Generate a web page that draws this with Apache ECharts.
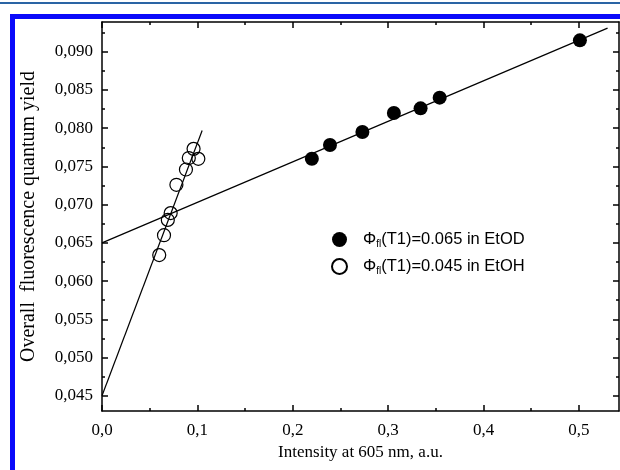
<!DOCTYPE html>
<html>
<head>
<meta charset="utf-8">
<script src="https://cdn.jsdelivr.net/npm/echarts@6/dist/echarts.min.js"></script>
<style>html,body{margin:0;padding:0;background:#fff}#c{width:620px;height:470px}</style>
</head>
<body>
<div id="c"></div>
<script>
// ---- data ----
var etodX = [0.220, 0.239, 0.273, 0.306, 0.334, 0.354, 0.501];
var etodY = [0.0760, 0.0778, 0.0795, 0.0820, 0.0826, 0.0840, 0.0915];
var etohX = [0.060, 0.065, 0.069, 0.072, 0.078, 0.088, 0.091, 0.096, 0.101];
var etohY = [0.0634, 0.0660, 0.0680, 0.0689, 0.0726, 0.0746, 0.0761, 0.0773, 0.0760];
var etodFitX = [0, 0.53];
var etodFitY = [0.065, 0.0931];
var etohFitX = [0, 0.105];
var etohFitY = [0.045, 0.0797];
var xMajorTicks = [0, 0.1, 0.2, 0.3, 0.4, 0.5];
var xMinorTicks = [0.05, 0.15, 0.25, 0.35, 0.45];
var yMajorTicks = [0.045, 0.050, 0.055, 0.060, 0.065, 0.070, 0.075, 0.080, 0.085, 0.090];
var yMinorTicks = [0.0475, 0.0525, 0.0575, 0.0625, 0.0675, 0.0725, 0.0775, 0.0825, 0.0875, 0.0925];
var legendNames = {
  EtOD: '{a|Φ}{s|fl}{a|(T1)=0.065 in EtOD}',
  EtOH: '{a|Φ}{s|fl}{a|(T1)=0.045 in EtOH}'
};

function zip(xs, ys) { return xs.map(function (x, i) { return [x, ys[i]]; }); }

var chart = echarts.init(document.getElementById('c'), null, {renderer: 'canvas'});
var black = '#000';
var serif = 'Liberation Serif';
function xAx(pos, ticks, len, showLine, showLabel) {
  return {
    type: 'value', position: pos, min: 0, max: 0.542,
    axisLine: {show: showLine, onZero: false, lineStyle: {color: black, width: 1.5}},
    axisTick: {show: true, inside: true, length: len, customValues: ticks, lineStyle: {color: black, width: 1.5}},
    axisLabel: showLabel ? {show: true, customValues: ticks, margin: 11, color: black, fontFamily: serif, fontSize: 17,
      formatter: function (v) { return v.toFixed(1).replace('.', ','); }} : {show: false},
    splitLine: {show: false}
  };
}
function yAx(pos, ticks, len, showLine, showLabel) {
  return {
    type: 'value', position: pos, min: 0.043, max: 0.0939,
    axisLine: {show: showLine, onZero: false, lineStyle: {color: black, width: 1.5}},
    axisTick: {show: true, inside: true, length: len, customValues: ticks, lineStyle: {color: black, width: 1.5}},
    axisLabel: showLabel ? {show: true, customValues: ticks, margin: 9, color: black, fontFamily: serif, fontSize: 17,
      formatter: function (v) { return v.toFixed(3).replace('.', ','); }} : {show: false},
    splitLine: {show: false}
  };
}
var xb = xAx('bottom', xMajorTicks, 6, true, true);
xb.name = 'Intensity at 605 nm, a.u.';
xb.nameLocation = 'middle';
xb.nameGap = 33;
xb.nameTextStyle = {color: black, fontFamily: serif, fontSize: 17};
var yl = yAx('left', yMajorTicks, 6, true, true);
yl.name = 'Overall  fluorescence quantum yield';
yl.nameLocation = 'middle';
yl.nameGap = 63;
yl.nameTextStyle = {color: black, fontFamily: serif, fontSize: 20};

var option = {
  animation: false,
  backgroundColor: '#fff',
  grid: {left: 102, top: 22, width: 517, height: 389, containLabel: false},
  graphic: [
    {type: 'rect', shape: {x: 0, y: 2, width: 620, height: 2}, style: {fill: '#2a64a4'}},
    {type: 'rect', shape: {x: 10, y: 14, width: 610, height: 5}, style: {fill: '#0a0afa'}},
    {type: 'rect', shape: {x: 10, y: 14, width: 5, height: 456}, style: {fill: '#0a0afa'}}
  ],
  xAxis: [
    xb,
    xAx('bottom', xMinorTicks, 3, false, false),
    xAx('top', xMajorTicks, 6, true, false),
    xAx('top', xMinorTicks, 3, false, false)
  ],
  yAxis: [
    yl,
    yAx('left', yMinorTicks, 3, false, false),
    yAx('right', yMajorTicks, 6, true, false),
    yAx('right', yMinorTicks, 3, false, false)
  ],
  legend: {
    orient: 'vertical', left: 326, top: 226, itemGap: 9,
    itemWidth: 15, itemHeight: 15,
    data: ['EtOD', 'EtOH'],
    formatter: function (n) { return legendNames[n]; },
    textStyle: {
      color: black, fontFamily: 'Liberation Sans', fontSize: 16, padding: [0, 0, 0, 11],
      rich: {
        a: {fontFamily: 'Liberation Sans', fontSize: 16.5, color: black, lineHeight: 19},
        s: {fontFamily: 'Liberation Sans', fontSize: 10, color: black, verticalAlign: 'bottom', lineHeight: 12}
      }
    }
  },
  series: [
    {name: 'fitD', type: 'line', data: zip(etodFitX, etodFitY), showSymbol: false, silent: true,
     lineStyle: {color: black, width: 1.2}, z: 1},
    {name: 'fitH', type: 'line', data: zip(etohFitX, etohFitY), showSymbol: false, silent: true,
     lineStyle: {color: black, width: 1.2}, z: 1},
    {name: 'EtOD', type: 'scatter', data: zip(etodX, etodY), symbol: 'circle', symbolSize: 14,
     itemStyle: {color: black, opacity: 1}, z: 3},
    {name: 'EtOH', type: 'scatter', data: zip(etohX, etohY), symbol: 'circle', symbolSize: 13,
     itemStyle: {color: 'rgba(255,255,255,0)', borderColor: black, borderWidth: 1.2, opacity: 1}, z: 3}
  ]
};
chart.setOption(option);
</script>
</body>
</html>
